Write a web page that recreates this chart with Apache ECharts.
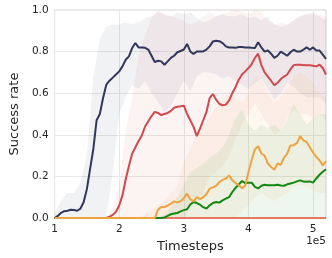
<!DOCTYPE html>
<html><head><meta charset="utf-8">
<script src="https://cdn.jsdelivr.net/npm/echarts@6/dist/echarts.min.js"></script>
<style>html,body{margin:0;padding:0;background:#fff}#c{width:332px;height:258px}</style>
</head><body><div id="c"></div>
<script>
// Timesteps (x 1e5) for mean curves
const steps = [1.00,1.05,1.10,1.15,1.20,1.25,1.30,1.35,1.40,1.45,1.50,1.55,1.60,1.65,1.70,1.75,1.80,1.85,1.90,1.95,
2.00,2.05,2.10,2.15,2.20,2.25,2.30,2.35,2.40,2.45,2.50,2.55,2.60,2.65,2.70,2.75,2.80,2.85,2.90,2.95,
3.00,3.05,3.10,3.15,3.20,3.25,3.30,3.35,3.40,3.45,3.50,3.55,3.60,3.65,3.70,3.75,3.80,3.85,3.90,3.95,
4.00,4.05,4.10,4.15,4.20,4.25,4.30,4.35,4.40,4.45,4.50,4.55,4.60,4.65,4.70,4.75,4.80,4.85,4.90,4.95,
5.00,5.05,5.10,5.15,5.20];
const navyMean = [0.00,0.01,0.025,0.033,0.035,0.04,0.038,0.035,0.045,0.077,0.14,0.237,0.333,0.47,0.50,0.577,0.641,0.66,0.675,0.69,
0.705,0.729,0.761,0.777,0.817,0.841,0.82,0.82,0.818,0.81,0.78,0.75,0.756,0.753,0.737,0.753,0.77,0.78,0.797,0.803,
0.81,0.837,0.801,0.788,0.801,0.801,0.801,0.81,0.825,0.849,0.852,0.85,0.841,0.825,0.82,0.82,0.818,0.822,0.822,0.82,
0.82,0.818,0.817,0.845,0.82,0.80,0.805,0.79,0.77,0.78,0.80,0.79,0.78,0.797,0.809,0.80,0.80,0.809,0.82,0.809,
0.82,0.805,0.805,0.785,0.765];
const redMean = [0,0,0,0,0,0,0,0,0,0,0,0,0,0,0,0,0,0.006,0.015,0.03,
0.06,0.109,0.185,0.25,0.309,0.34,0.37,0.397,0.44,0.465,0.49,0.51,0.505,0.495,0.50,0.505,0.515,0.53,0.535,0.537,
0.54,0.50,0.47,0.438,0.394,0.43,0.47,0.51,0.577,0.596,0.569,0.548,0.542,0.545,0.565,0.60,0.63,0.665,0.69,0.705,
0.721,0.74,0.77,0.79,0.735,0.70,0.68,0.66,0.638,0.65,0.668,0.68,0.69,0.715,0.735,0.737,0.737,0.735,0.734,0.734,
0.732,0.729,0.737,0.721,0.69];
const orangeMean = [0,0,0,0,0,0,0,0,0,0,0,0,0,0,0,0,0,0,0,0,
0,0,0,0,0,0,0,0,0,0,0,0,0.04,0.053,0.053,0.06,0.069,0.08,0.075,0.08,
0.095,0.117,0.09,0.08,0.1,0.09,0.1,0.115,0.141,0.147,0.155,0.173,0.183,0.19,0.205,0.181,0.168,0.158,0.143,0.155,
0.221,0.28,0.33,0.345,0.31,0.30,0.262,0.245,0.232,0.262,0.256,0.29,0.309,0.349,0.35,0.36,0.394,0.373,0.365,0.34,
0.315,0.293,0.278,0.253,0.273];
const greenMean = [0,0,0,0,0,0,0,0,0,0,0,0,0,0,0,0,0,0,0,0,
0,0,0,0,0,0,0,0,0,0,0,0,0,0,0.003,0.01,0.018,0.022,0.024,0.032,
0.038,0.042,0.065,0.077,0.072,0.064,0.052,0.045,0.061,0.072,0.077,0.074,0.085,0.093,0.1,0.125,0.145,0.16,0.178,0.168,
0.17,0.17,0.15,0.142,0.155,0.16,0.158,0.157,0.158,0.16,0.156,0.155,0.162,0.166,0.17,0.176,0.181,0.175,0.174,0.176,
0.17,0.19,0.208,0.222,0.234];

// Coarser timesteps for the shaded bands
const bandSteps = [1.0,1.1,1.2,1.3,1.4,1.5,1.6,1.7,1.8,1.9,2.0,2.1,2.2,2.3,2.4,2.5,2.6,2.7,2.8,2.9,3.0,3.1,3.2,3.3,3.4,3.5,3.6,3.7,3.8,3.9,4.0,4.1,4.2,4.3,4.4,4.5,4.6,4.7,4.8,4.9,5.0,5.1,5.2];
const coralFlat = [0,0,0,0,0,0,0,0,0,0,0,0,0,0,0,0,0,0,0,0,0,0,0,0,0,0,0,0,0,0,0,0,0,0,0,0,0,0,0,0,0,0,0];
const navyLower = [0,0,0,0,0,0,0,0,0,0.22,0.5,0.58,0.64,0.62,0.66,0.6,0.56,0.51,0.54,0.6,0.66,0.61,0.68,0.7,0.7,0.69,0.67,0.68,0.66,0.64,0.62,0.65,0.67,0.62,0.57,0.6,0.65,0.63,0.6,0.58,0.58,0.58,0.55];
const navyUpper = [0.02,0.08,0.12,0.12,0.17,0.3,0.68,0.86,0.92,0.93,0.93,0.94,0.93,0.94,0.96,0.97,0.99,0.98,0.97,0.99,0.98,0.99,0.96,0.94,0.95,0.97,0.98,0.97,0.97,0.98,0.96,0.97,0.95,0.97,0.93,0.92,0.93,0.95,0.97,0.98,0.98,0.97,0.95];
const redLower = [0,0,0,0,0,0,0,0,0,0,0,0,0,0,0,0,0,0,0,0,0,0.05,0.08,0.12,0.2,0.22,0.25,0.3,0.38,0.45,0.5,0.55,0.5,0.45,0.4,0.42,0.48,0.52,0.5,0.5,0.48,0.5,0.47];
const redUpper = [0,0,0,0,0,0,0,0,0,0.05,0.15,0.42,0.57,0.78,0.88,0.96,1.0,0.98,0.97,0.96,0.95,0.93,0.94,0.97,0.99,0.97,0.98,0.99,1.0,0.99,0.98,1.0,0.99,0.95,0.93,0.94,0.93,0.95,0.97,0.98,0.99,0.98,0.97];
const orangeLower = [0,0,0,0,0,0,0,0,0,0,0,0,0,0,0,0,0,0,0,0,0,0,0,0,0,0,0,0,0,0.03,0.06,0.1,0.12,0.1,0.08,0.1,0.12,0.15,0.16,0.15,0.13,0.12,0.12];
const orangeUpper = [0,0,0,0,0,0,0,0,0,0,0,0,0,0,0.02,0.04,0.06,0.08,0.12,0.16,0.27,0.33,0.4,0.44,0.48,0.53,0.57,0.6,0.58,0.55,0.6,0.68,0.66,0.6,0.55,0.58,0.63,0.68,0.7,0.68,0.65,0.6,0.58];
const greenLower = [0,0,0,0,0,0,0,0,0,0,0,0,0,0,0,0,0,0,0,0,0,0,0,0,0,0,0,0,0,0,0,0,0,0,0,0,0,0,0,0,0,0,0];
const greenUpper = [0,0,0,0,0,0,0,0,0,0,0,0,0,0,0,0,0,0.02,0.05,0.1,0.16,0.22,0.24,0.26,0.29,0.31,0.34,0.4,0.48,0.52,0.45,0.42,0.45,0.43,0.45,0.42,0.47,0.55,0.5,0.45,0.48,0.5,0.5];

const xTicks = [1,2,3,4,5];
const yTicks = [0,0.2,0.4,0.6,0.8,1.0];

const FONT = 'DejaVu Sans';
function band(name, lower, upper, color) {
  return {
    type:'custom', name:name+'_band', z:1, silent:true, clip:true,
    data: [[bandSteps[0], lower[0]]],
    renderItem:function(params, api){
      const pts = [];
      for (let i=0;i<bandSteps.length;i++) pts.push(api.coord([bandSteps[i], upper[i]]));
      for (let i=bandSteps.length-1;i>=0;i--) pts.push(api.coord([bandSteps[i], lower[i]]));
      return {type:'polygon', shape:{points:pts}, style:{fill:color, stroke:null, opacity:1}};
    }
  };
}
function line(name, data, color, z, xs) {
  const xv = xs || steps;
  return {type:'line', name:name, data:xv.map((t,i)=>[t,data[i]]), symbol:'none',
    lineStyle:{color:color, width:2}, itemStyle:{color:color}, z:z, silent:true};
}
const chart = echarts.init(document.getElementById('c'), null, {renderer:'canvas'});
chart.setOption({
  animation:false,
  backgroundColor:'#ffffff',
  grid:{left:46, right:6, top:10, bottom:40, show:true, borderColor:'#d6d6d6', borderWidth:1},
  xAxis:{type:'value', min:1, max:5.2, interval:1,
    name:'Timesteps', nameLocation:'middle', nameGap:19,
    nameTextStyle:{fontFamily:FONT, fontSize:13, color:'#262626'},
    axisLine:{show:false}, axisTick:{show:false},
    axisLabel:{fontFamily:FONT, fontSize:10.5, color:'#262626', margin:6,
      formatter:v=>xTicks.indexOf(v)>=0?String(v):''},
    splitLine:{show:true, lineStyle:{color:'#e8e8e8', width:1}}},
  yAxis:{type:'value', min:0, max:1, interval:0.2,
    name:'Success rate', nameLocation:'middle', nameGap:27, nameRotate:90,
    nameTextStyle:{fontFamily:FONT, fontSize:13, color:'#262626'},
    axisLine:{show:false}, axisTick:{show:false},
    axisLabel:{fontFamily:FONT, fontSize:10.5, color:'#262626', margin:6,
      formatter:v=>yTicks.some(y=>Math.abs(y-v)<1e-9)?v.toFixed(1):''},
    splitLine:{show:true, lineStyle:{color:'#e8e8e8', width:1}}},
  graphic:[{type:'text', right:6, top:236,
    style:{text:'1e5', fontFamily:FONT, fontSize:10.5, fill:'#262626'}}],
  series:[
    band('navy', navyLower, navyUpper, 'rgba(51,57,92,0.065)'),
    band('red', redLower, redUpper, 'rgba(208,73,78,0.065)'),
    band('orange', orangeLower, orangeUpper, 'rgba(240,165,64,0.08)'),
    band('green', greenLower, greenUpper, 'rgba(17,136,17,0.07)'),
    line('coral', coralFlat, '#e5785e', 3, bandSteps),
    line('navy', navyMean, '#30375a', 4),
    line('red', redMean, '#d0494e', 5),
    line('green', greenMean, '#118811', 6),
    line('orange', orangeMean, '#eea340', 7)
  ]
});
</script></body></html>
